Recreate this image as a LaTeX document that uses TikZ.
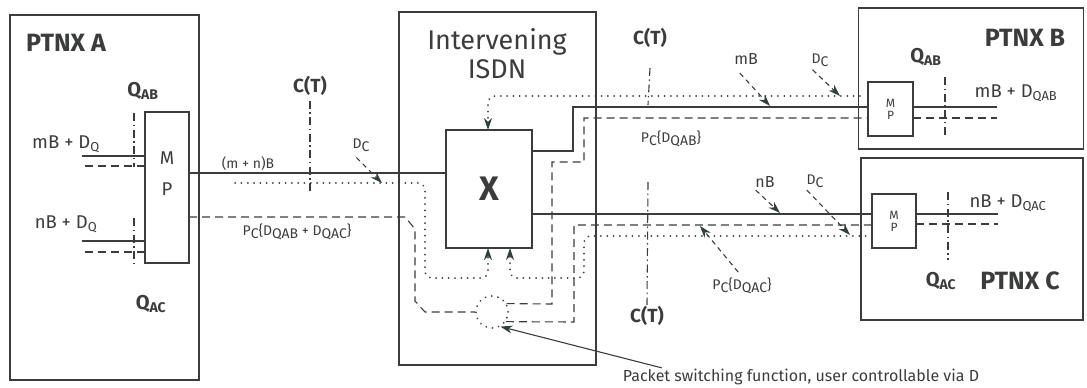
\documentclass[tikz,border=0pt]{standalone}
\usepackage{fontspec}
\setmainfont{Fira Sans}
\usetikzlibrary{arrows.meta}
\definecolor{ink}{HTML}{3A3D3B}
\definecolor{tipc}{HTML}{2F4239}
\newcommand{\fs}[1]{\fontsize{#1}{#1}\selectfont}
\newcommand{\lo}[1]{\raisebox{-3pt}{#1}}
\tikzset{box/.style={draw=ink,line width=1.1pt,inner sep=0pt,outer sep=0pt},lbl/.style={text=ink,inner sep=1pt,font=\fs{18.5}},hd/.style={lbl,font=\fs{25}\bfseries},qlbl/.style={lbl,font=\fs{20}\bfseries},sml/.style={lbl,font=\fs{14}},sig/.style={draw=ink,line width=1.1pt},dsh/.style={sig,dash pattern=on 8pt off 5pt},dot/.style={draw=ink,line width=1.7pt,line cap=round,dash pattern=on 0.3pt off 6pt},cut/.style={draw=ink,line width=1.1pt,dash pattern=on 8pt off 3.5pt on 1.5pt off 3.5pt},tip/.style={-{Stealth[length=12pt,width=8pt,color=tipc]}},ptr/.style={tip,draw=ink,line width=1.1pt,dash pattern=on 5pt off 4pt}}
\begin{document}
\begin{tikzpicture}[x=1pt,y=-1pt]
\useasboundingbox (0,0) rectangle (1087,388);
\node[box,minimum width=189pt,minimum height=365pt] (ptnxa) at (104.5,197.5) {};
\node[box,minimum width=44pt,minimum height=151pt] (mpa) at (167,187.5) {};
\node[box,minimum width=197pt,minimum height=353pt] (isdn) at (497.5,188.5) {};
\node[box,minimum width=86pt,minimum height=118pt,text=ink,font=\fs{34}\bfseries] (xsw) at (489,189) {X};
\node[box,minimum width=225pt,minimum height=141pt] (ptnxb) at (971,78.5) {};
\node[box,minimum width=45pt,minimum height=54pt,text=ink,font=\fs{12},align=center] (mpb) at (890.5,109) {M\\P};
\node[box,minimum width=222pt,minimum height=162pt] (ptnxc) at (972,239) {};
\node[box,minimum width=44pt,minimum height=54pt,text=ink,font=\fs{12},align=center] (mpc) at (894,221) {M\\P};
\node[circle,dot,minimum size=32pt,inner sep=0pt] (psf) at (492,312) {};

\node[lbl] (mpam) at (167,158) {M};
\node[lbl] (mpap) at (167,189) {P};
\node[hd] (tla) at (66,43) {PTNX A};
\node[hd] (tlb) at (1025,38) {PTNX B};
\node[hd] (tlc) at (1020,281) {PTNX C};
\node[lbl,font=\fs{27},align=center] (tli) at (497,54) {Intervening\\[2pt]ISDN};
\node[qlbl] (qab1) at (143,91) {Q\textsubscript{AB}};
\node[qlbl] (qac1) at (151,304) {Q\textsubscript{AC}};
\node[qlbl] (qab2) at (926,57) {Q\textsubscript{AB}};
\node[qlbl] (qac2) at (941,281) {Q\textsubscript{AC}};
\node[qlbl,font=\fs{19}\bfseries] (ct1) at (310,86) {C(T)};
\node[qlbl,font=\fs{19}\bfseries] (ct2) at (650,38) {C(T)};
\node[qlbl,font=\fs{19}\bfseries] (ct3) at (647,316) {C(T)};
\node[lbl] (ina) at (66,144) {mB + D\textsubscript{Q}};
\node[lbl] (inb) at (66,224) {nB + D\textsubscript{Q}};
\node[lbl] (outb) at (1016,93) {mB + D\textsubscript{QAB}};
\node[lbl] (outc) at (1008,203) {nB + D\textsubscript{QAC}};
\node[sml] (mnb) at (248,164) {(m + n)B};
\node[sml] (pqa) at (297,232) {P\lo{C}\{D\lo{QAB} + D\lo{QAC}\}};
\node[sml] (pqb) at (671,139) {P\lo{C}\{D\lo{QAB}\}};
\node[sml] (pqc) at (742,286) {P\lo{C}\{D\lo{QAC}\}};
\node[sml] (dca) at (361,145) {D\lo{C}};
\node[sml] (dcb) at (820,60) {D\lo{C}};
\node[sml] (dcc) at (815,181) {D\lo{C}};
\node[lbl,font=\fs{16}] (mbb) at (746,59) {mB};
\node[lbl,font=\fs{16}] (nbb) at (765,182) {nB};
\node[lbl,font=\fs{16}] (psl) at (801,377) {Packet switching function, user controllable via D};

\coordinate (dcatip) at (382,183);
\coordinate (mbtip) at (770,106);
\coordinate (dcbtip) at (840,96);
\coordinate (nbtip) at (780,213);
\coordinate (dcctip) at (850,235);
\coordinate (pqctip) at (700,226);

\draw[sig] (mpa.west |- 0,156) -- ++(-63,0);
\draw[dsh] (mpa.west |- 0,166) -- ++(-63,0);
\draw[cut] (134,113) -- (134,167);
\draw[sig] (mpa.west |- 0,241) -- ++(-63,0);
\draw[dsh] (mpa.west |- 0,252) -- ++(-63,0);
\draw[cut] (134,218) -- (134,263);

\draw[sig] (mpa.east |- 0,173) -- (xsw.west |- 0,173);
\draw[dot,rounded corners=7pt,tip] (mpa.east |- 0,183) ++(46,0) -- (425,183) -- (425,278) -- (488,278) -- (xsw.south -| 488,0);
\draw[dsh] (mpa.east |- 0,217) -- (405,217) -- (415,229) -- (415,301) -- (425,312) -- (psf.west);
\draw[cut] (ct1.south) ++(0,4) -- (310,192);

\draw[sig] (xsw.east |- 0,151) -- (573,151) -- (573,107) -- (mpb.west |- 0,107);
\draw[sig] (mpb.east |- 0,107) -- ++(84,0);
\draw[dsh] (psf.30) -- (552,304) -- (552,162) -- (584,162) -- (584,118) -- (mpb.west |- 0,118);
\draw[dsh] (mpb.east |- 0,118) -- ++(84,0);
\draw[dot,rounded corners=7pt,tip] (mpb.west |- 0,96) ++(-8,0) -- (488,96) -- (xsw.north -| 488,0);
\draw[cut] (945,77) -- (945,136);
\draw[cut] (ct2.south) ++(0,19) -- (648,105);

\draw[sig] (xsw.east |- 0,214) -- (mpc.west |- 0,214);
\draw[sig] (mpc.east |- 0,214) -- ++(82,0);
\draw[dsh] (psf.-35) -- (574,322) -- (574,225) -- (mpc.west |- 0,225);
\draw[dsh] (mpc.east |- 0,224) -- ++(82,0);
\draw[dot,rounded corners=7pt,tip] (mpc.west |- 0,236) -- (584,236) -- (584,278) -- (510,278) -- (xsw.south -| 510,0);
\draw[cut] (948,192) -- (948,260);
\draw[cut] (648,182) -- (ct3.north);

\draw[ptr,shorten <=7pt] (dca.south west) -- (dcatip);
\draw[ptr,shorten <=10pt] (mbb.south west) -- (mbtip);
\draw[ptr,shorten <=3pt] (dcb.south west) -- (dcbtip);
\draw[ptr,shorten <=2pt] (nbb.south west) -- (nbtip);
\draw[ptr,shorten <=2pt] (dcc.south west) -- (dcctip);
\draw[ptr,shorten <=6pt] (pqc.north) -- (pqctip);
\draw[sig,tip] ([xshift=40pt]psl.north west) -- (psf.-60);
\end{tikzpicture}
\end{document}
